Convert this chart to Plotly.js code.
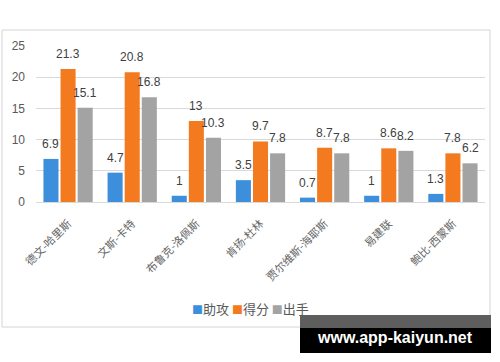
<!DOCTYPE html>
<html>
<head>
<meta charset="utf-8">
<script src="https://cdn.plot.ly/plotly-3.0.1.min.js"></script>
<style>html,body{margin:0;padding:0;background:#fff;}#chart{width:500px;height:362px;}</style>
</head>
<body>
<div id="chart"></div>
<script>
const categories = ["德文-哈里斯", "文斯-卡特", "布鲁克-洛佩斯", "肯扬-杜林", "贾尔维斯-海耶斯", "易建联", "鲍比-西蒙斯"];
const assists = [6.9, 4.7, 1, 3.5, 0.7, 1, 1.3];
const points = [21.3, 20.8, 13, 9.7, 8.7, 8.6, 7.8];
const shots = [15.1, 16.8, 10.3, 7.8, 7.8, 8.2, 6.2];
const seriesNames = ["助攻", "得分", "出手"];
const yTicks = [0, 5, 10, 15, 20, 25];

const colors = ["#3d8fdc", "#f47a20", "#a3a3a3"];
const fontFam = "'Noto Sans CJK SC', 'Liberation Sans', sans-serif";
const series = [assists, points, shots];

const data = series.map((vals, i) => ({
  type: 'bar', x: categories, y: vals, name: seriesNames[i],
  marker: {color: colors[i]}, showlegend: false
}));

// pixel -> paper helpers (plot area: x 36..485, y 46..202)
const L = 36, R = 485, T = 46, B = 202;
const px = p => (p - L) / (R - L);
const py = p => (B - p) / (B - T);

const bargap = 0.2, bargroupgap = 0.12;
const catW = (R - L) / categories.length;
const slot = catW * (1 - bargap) / series.length;

const annotations = [];
series.forEach((vals, i) => {
  vals.forEach((v, j) => {
    annotations.push({
      xref: 'x', yref: 'y', x: categories[j], y: v, text: String(v), showarrow: false,
      xanchor: 'center', yanchor: 'middle', xshift: (i - 1) * slot, yshift: 15,
      font: {size: 12, color: '#404040', family: "'Liberation Sans', sans-serif"}
    });
  });
});

// legend row built from series names & colours
const legendText = seriesNames.map((n, i) =>
  `<span style="color:${colors[i]};font-size:11px">■</span>${n}`).join(' ');
annotations.push({
  xref: 'paper', yref: 'paper', x: px(250), y: py(308), xanchor: 'center', yanchor: 'middle',
  text: legendText, showarrow: false, font: {size: 13, color: '#595959', family: fontFam}
});

annotations.push({
  xref: 'paper', yref: 'paper', x: px(395), y: py(337), xanchor: 'center', yanchor: 'middle',
  text: '<b>www.app-kaiyun.net</b>', showarrow: false,
  font: {size: 16, color: '#ffffff', family: "'Liberation Sans', sans-serif"}
});

const layout = {
  width: 500, height: 362,
  margin: {l: L, r: 500 - R, t: T, b: 362 - B, pad: 0},
  paper_bgcolor: '#ffffff', plot_bgcolor: '#ffffff',
  font: {family: fontFam, color: '#595959', size: 11},
  barmode: 'group', bargap: bargap, bargroupgap: bargroupgap,
  showlegend: false,
  xaxis: {tickangle: -45, showgrid: false, showline: true, linecolor: '#d9d9d9',
          ticks: '', ticklabelstandoff: 10,
          tickfont: {size: 11, color: '#666666', family: fontFam}, fixedrange: true},
  yaxis: {range: [0, 25], tickvals: yTicks, ticktext: yTicks.map(String), showgrid: true,
          gridcolor: '#d9d9d9', zeroline: false, ticks: '', ticklen: 0, ticklabelstandoff: 10,
          tickfont: {size: 12, color: '#595959', family: "'Liberation Sans', sans-serif"}, fixedrange: true},
  shapes: [
    {type: 'rect', xref: 'paper', yref: 'paper', x0: px(2), x1: px(490), y0: py(327), y1: py(30),
     line: {color: '#d4d4d4', width: 1}, fillcolor: 'rgba(0,0,0,0)', layer: 'below'},
    {type: 'rect', xref: 'paper', yref: 'paper', x0: px(300), x1: px(491), y0: py(328), y1: py(315),
     line: {width: 0}, fillcolor: '#5e5e5e'},
    {type: 'rect', xref: 'paper', yref: 'paper', x0: px(300), x1: px(491), y0: py(353), y1: py(328),
     line: {width: 0}, fillcolor: '#000000'}
  ],
  annotations: annotations
};

Plotly.newPlot('chart', data, layout, {displayModeBar: false, staticPlot: true});
</script>
</body>
</html>
